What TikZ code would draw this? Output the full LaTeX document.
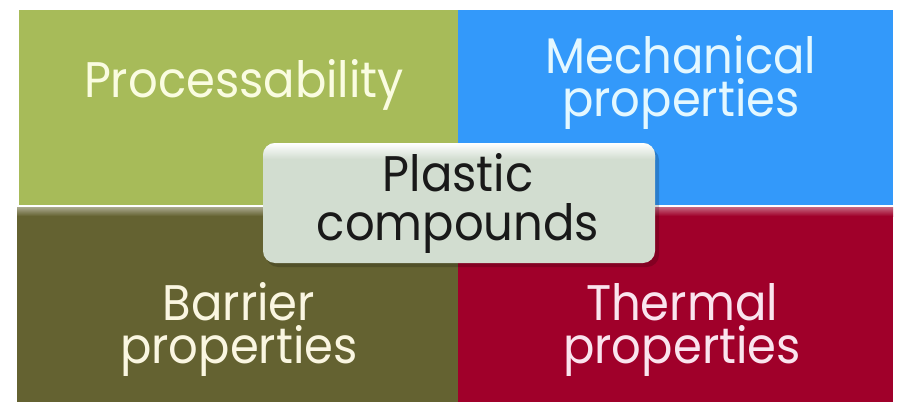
\documentclass[tikz,border=0pt]{standalone}
\usepackage{fontspec}
\setmainfont{Poppins}[FakeStretch=0.93]
\definecolor{cgreen}{RGB}{167,187,89}
\definecolor{cblue}{RGB}{51,153,250}
\definecolor{colive}{RGB}{100,98,49}
\definecolor{cred}{RGB}{160,0,42}
\definecolor{cbox}{RGB}{210,221,208}
\definecolor{tgreen}{RGB}{250,252,225}
\definecolor{tblue}{RGB}{228,248,255}
\definecolor{tolive}{RGB}{250,246,225}
\definecolor{tred}{RGB}{250,228,238}
\begin{document}
\begin{tikzpicture}[x=1pt,y=1pt,
  tile/.style={draw=none, inner sep=0pt, outer sep=0pt, rectangle, anchor=north west},
  lbl/.style={font=\fontsize{50}{43}\selectfont, align=center, anchor=base, inner sep=0pt}]
\useasboundingbox (0,0) rectangle (897,-404);
\fill[white] (0,0) rectangle (897,-404);
% tiles
\node[tile, fill=cgreen, minimum width=439pt, minimum height=195pt] (proc) at (19,-10) {};
\node[tile, fill=cblue, minimum width=435pt, minimum height=195pt] (mech) at (458,-10) {};
\node[tile, fill=colive, minimum width=441pt, minimum height=195pt] (barr) at (17,-207) {};
\node[tile, fill=cred, minimum width=435pt, minimum height=195pt] (therm) at (458,-207) {};
% bevel highlights
\shade[top color=colive!55!white, bottom color=colive] (barr.north west) rectangle ([yshift=-9pt]barr.north east);
\shade[top color=cred!60!white, bottom color=cred] (therm.north west) rectangle ([yshift=-9pt]therm.north east);
% labels (anchor = baseline of last line)
\node[lbl, text=tgreen] (tproc) at (244,-97) {Processability};
\node[lbl, text=tblue] (tmech) at (681,-116) {Mechanical\\properties};
\node[lbl, text=tolive] (tbarr) at (239,-363) {Barrier\\properties};
\node[lbl, text=tred] (ttherm) at (682,-363) {Thermal\\properties};
% centre box
\fill[black, opacity=0.18, rounded corners=12pt] (266,-148) rectangle (659,-267);
\node[tile, fill=cbox, rounded corners=12pt, minimum width=392pt, minimum height=120pt] (pc) at (263,-143) {};
\begin{scope}
  \clip[rounded corners=12pt] (pc.north west) rectangle (pc.south east);
  \shade[top color=white, bottom color=cbox] (pc.north west) rectangle ([yshift=-16pt]pc.north east);
\end{scope}
\node[lbl, font=\fontsize{50}{49}\selectfont, text=black!90] (tpc) at (458,-240) {Plastic\\compounds};
\end{tikzpicture}
\end{document}
